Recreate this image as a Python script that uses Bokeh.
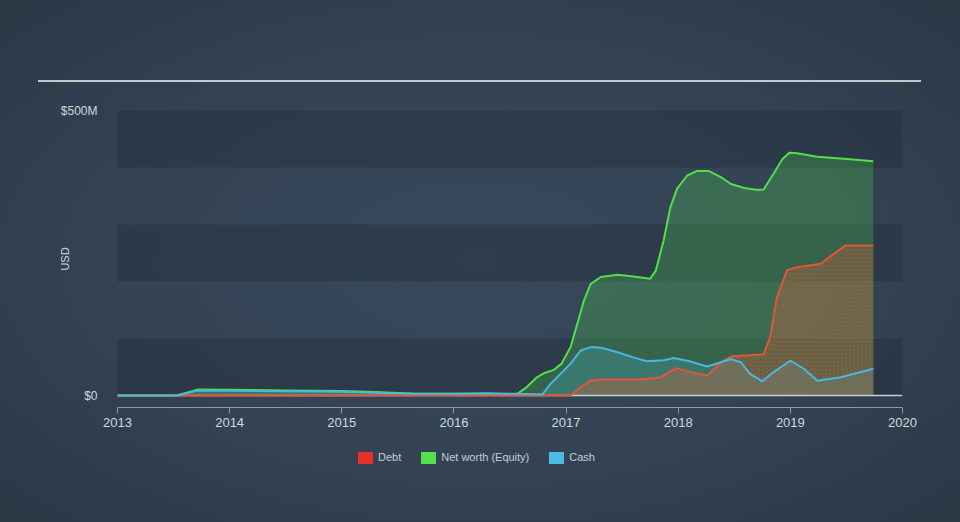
from bokeh.plotting import figure
from bokeh.layouts import column
from bokeh.models import (Range1d, FixedTicker, BoxAnnotation, Div)
from bokeh.embed import file_html
from bokeh.resources import INLINE

# ---- data (values in $M, x in decimal years) ----
equity_x = [2013.0, 2013.53, 2013.62, 2013.72, 2014.0, 2014.5, 2015.0, 2015.3, 2015.65, 2016.0, 2016.3,
            2016.56, 2016.65, 2016.74, 2016.80, 2016.89, 2016.96, 2017.04, 2017.10, 2017.16, 2017.22,
            2017.31, 2017.46, 2017.60, 2017.75, 2017.80, 2017.87, 2017.93, 2017.99, 2018.08, 2018.17,
            2018.27, 2018.38, 2018.47, 2018.59, 2018.69, 2018.76, 2018.85, 2018.93, 2018.99, 2019.06,
            2019.24, 2019.45, 2019.74]
equity_y = [0, 0, 5, 10.5, 10, 9, 8, 6, 3, 3, 3,
            2, 15, 32, 39, 45, 56, 85, 126, 167, 196,
            208, 212, 209, 205, 219, 272, 330, 363, 386, 394,
            394, 383, 371, 364, 361, 361, 389, 415, 426, 425,
            419, 416, 411]

cash_x = [2013.0, 2013.53, 2013.62, 2013.72, 2014.0, 2014.5, 2015.0, 2015.3, 2015.65, 2016.0, 2016.3,
          2016.55, 2016.79, 2016.86, 2016.95, 2017.04, 2017.13, 2017.22, 2017.31, 2017.46, 2017.60,
          2017.72, 2017.87, 2017.96, 2018.10, 2018.26, 2018.47, 2018.56, 2018.64, 2018.75, 2018.85,
          2019.0, 2019.12, 2019.24, 2019.45, 2019.74]
cash_y = [0, 0, 5, 9, 8.5, 7.5, 6.5, 5, 3, 3, 4,
          3, 2, 20, 38, 56, 79, 85, 84, 76, 67,
          60, 62, 66, 60, 51, 64, 58, 38, 25, 41,
          61, 47, 26, 32, 47]

debt_x = [2013.0, 2017.04, 2017.13, 2017.22, 2017.31, 2017.66, 2017.84, 2017.98, 2018.11, 2018.26,
          2018.38, 2018.48, 2018.76, 2018.82, 2018.88, 2018.97, 2019.06, 2019.27, 2019.39, 2019.49,
          2019.74]
debt_y = [0, 0, 15, 26, 28, 28, 32, 48, 41, 35,
          58, 69, 72, 102, 172, 220, 225, 231, 249, 263,
          263]

x_ticks = [2013, 2014, 2015, 2016, 2017, 2018, 2019, 2020]
y_ticks = [0, 500]
y_tick_labels = {0: "$0", 500: "$500M"}
band_edges = [(0, 100), (200, 300), (400, 500)]
series_names = ["Debt", "Net worth (Equity)", "Cash"]
legend_colors = ["#e8302d", "#55e050", "#4bbde3"]

FONT = "Liberation Sans"

# ---- top strip with the horizontal rule ----
header = Div(
    text='<div style="position:absolute;left:38px;top:80px;width:883px;height:2px;background:#c3c8ce;"></div>',
    width=960, height=95, margin=0, styles={"position": "relative"})

# ---- chart ----
p = figure(width=960, height=345, output_backend="svg", toolbar_location=None,
           x_range=Range1d(x_ticks[0], x_ticks[-1]), y_range=Range1d(-21, 500),
           min_border_left=117, min_border_right=58, min_border_top=15, min_border_bottom=33,
           outline_line_color=None, margin=0)
p.background_fill_alpha = 0
p.border_fill_alpha = 0
p.xgrid.visible = False
p.ygrid.visible = False

for lo, hi in band_edges:
    p.add_layout(BoxAnnotation(bottom=lo, top=hi, fill_color="#1c2633", fill_alpha=0.32,
                               line_color=None, level="underlay"))

# areas
p.varea(x=equity_x, y1=0, y2=equity_y, fill_color="#55e050", fill_alpha=0.25)
p.varea(x=cash_x, y1=0, y2=cash_y, fill_color="#4bbde3", fill_alpha=0.22)
p.varea(x=debt_x, y1=0, y2=debt_y, fill_color="#e0502e", fill_alpha=0.06,
        hatch_pattern="/", hatch_color="#d0623f", hatch_alpha=0.48, hatch_scale=4, hatch_weight=1.4)

# zero baseline
p.line([x_ticks[0], x_ticks[-1]], [0, 0], line_color="#c8cdd2", line_width=1.5)

# series lines
p.line(equity_x, equity_y, line_color="#53df48", line_width=2)
p.line(debt_x, debt_y, line_color="#e2553a", line_width=2)
p.line(cash_x, cash_y, line_color="#4ab7dc", line_width=2)

# x axis
xa = p.xaxis[0]
xa.ticker = FixedTicker(ticks=x_ticks)
xa.minor_tick_line_color = None
xa.axis_line_color = "#8d99a6"
xa.major_tick_line_color = "#8d99a6"
xa.major_tick_in = 0
xa.major_tick_out = 6
xa.major_label_text_font = FONT
xa.major_label_text_font_size = "13px"
xa.major_label_text_color = "#d3d8dd"
xa.major_label_standoff = 4

# y axis
ya = p.yaxis[0]
ya.ticker = FixedTicker(ticks=y_ticks)
ya.major_label_overrides = y_tick_labels
ya.minor_tick_line_color = None
ya.major_tick_line_color = None
ya.axis_line_color = None
ya.major_label_standoff = 14
ya.major_label_text_font = FONT
ya.major_label_text_font_size = "12px"
ya.major_label_text_color = "#d3d8dd"
ya.axis_label = "USD"
ya.axis_label_text_font = FONT
ya.axis_label_text_font_size = "11px"
ya.axis_label_text_font_style = "normal"
ya.axis_label_text_color = "#d3d8dd"
ya.axis_label_standoff = -13

# ---- legend strip ----
items_html = "".join(
    f'<span style="display:inline-flex;align-items:center;margin-right:20px;">'
    f'<span style="display:inline-block;width:15px;height:12px;background:{c};"></span>'
    f'<span style="margin-left:5px;">{n}</span></span>'
    for n, c in zip(series_names, legend_colors))
legend_div = Div(
    text=f'<div style="position:absolute;left:358px;top:10px;display:flex;align-items:center;'
         f'font-family:\'{FONT}\';font-size:11px;color:#c5cbd2;white-space:nowrap;">{items_html}</div>',
    width=960, height=82, margin=0, styles={"position": "relative"})

page = column(header, p, legend_div, spacing=0, margin=0,
              styles={"background": "radial-gradient(ellipse at 50% 50%, #38495c 0%, #334354 55%, #2b3846 100%)"})

open("out.html", "w").write(file_html(page, INLINE))
